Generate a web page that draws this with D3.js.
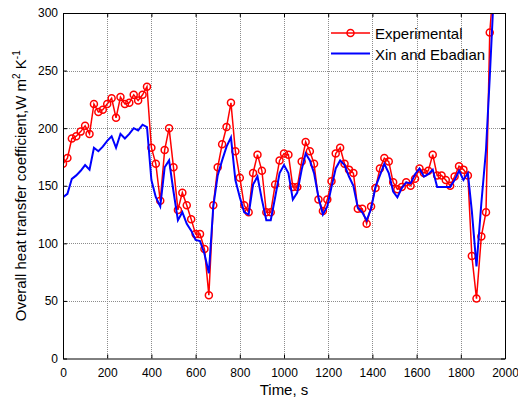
<!DOCTYPE html>
<html>
<head>
<meta charset="utf-8">
<script src="https://cdn.jsdelivr.net/npm/d3@7"></script>
<style>
body { margin: 0; background: #fff; }
svg { display: block; font-family: "Liberation Sans", Arial, sans-serif; }
</style>
</head>
<body>
<svg width="518" height="397"></svg>
<script>
// time, s
var times = [0,20,40,60,80,100,120,140,160,180,200,220,240,260,280,300,320,340,360,380,
  400,420,440,460,480,500,520,540,560,580,600,620,640,660,
  680,700,720,740,760,780,800,820,840,860,880,900,920,940,960,980,1000,1020,1040,1060,1080,
  1098,1117,1136,1156,1176,1196,1215,1234,1254,1274,1294,1314,1334,1354,1374,1394,1414,1434,1454,1474,
  1494,1513,1533,1553,1573,1593,1613,1633,1653,1673,1693,1713,1732,1752,1772,1792,1812,1832,
  1850,1871,1893,1914,1931,1950];

var experimental = [169,174,191,193,197,202,195,221,214,216,221,226,209,227,221,222,229,224,229,236,
  183,169,137,181,200,166,129,144,133,121,108,108,95,55,
  133,166,186,201,222,180,157,133,127,161,177,163,127,127,151,172,178,177,149,149,171,
  188,180,169,138,128,138,154,178,183,169,164,161,130,130,117,132,148,165,174,171,
  153,147,149,153,150,156,165,161,163,177,159,159,155,150,158,167,164,159,
  89,52,106,127,283,330];

var xinEbadian = [140,143,156,159,163,168,164,183,180,184,189,193,183,195,191,195,200,198,203,201,
  155,140,132,166,172,145,120,127,117,111,103,102,91,74,
  132,159,172,184,192,155,140,127,125,151,158,138,120,120,140,161,168,161,138,144,164,
  178,172,161,140,125,132,149,165,172,168,158,150,131,127,120,130,149,159,169,161,
  145,140,148,153,152,160,165,158,160,164,149,149,149,149,155,163,155,161,
  128,80,135,181,244,320];

var xTicks = [0,200,400,600,800,1000,1200,1400,1600,1800,2000];
var yTicks = [0,50,100,150,200,250,300];

var svg = d3.select("svg");
var pLeft = 63, pRight = 505, pTop = 13, pBottom = 358.5;

var x = d3.scaleLinear().domain([0,2000]).range([pLeft,pRight]);
var y = d3.scaleLinear().domain([0,300]).range([pBottom,pTop]);

svg.append("clipPath").attr("id","plotclip")
  .append("rect")
  .attr("x",pLeft).attr("y",pTop)
  .attr("width",pRight-pLeft).attr("height",pBottom-pTop);

// grid
svg.append("g").selectAll("line").data(xTicks.slice(1,-1)).enter()
  .append("line")
  .attr("x1",function(d){ return Math.round(x(d))+0.5 })
  .attr("x2",function(d){ return Math.round(x(d))+0.5 })
  .attr("y1",pTop).attr("y2",pBottom)
  .attr("stroke","#8c8c8c").attr("stroke-dasharray","1,1");
svg.append("g").selectAll("line").data(yTicks.slice(1,-1)).enter()
  .append("line")
  .attr("y1",function(d){ return Math.round(y(d))+0.5 })
  .attr("y2",function(d){ return Math.round(y(d))+0.5 })
  .attr("x1",pLeft).attr("x2",pRight)
  .attr("stroke","#8c8c8c").attr("stroke-dasharray","1,1");

// series
var pts = function(vals){ return times.map(function(t,i){ return [t, vals[i]] }) };
var line = d3.line().x(function(d){ return x(d[0]) }).y(function(d){ return y(d[1]) });

var plot = svg.append("g").attr("clip-path","url(#plotclip)");
plot.append("path").datum(pts(experimental))
  .attr("d",line).attr("fill","none")
  .attr("stroke","#ff0000").attr("stroke-width",1.5);
plot.selectAll("circle").data(pts(experimental)).enter()
  .append("circle")
  .attr("cx",function(d){ return x(d[0]) })
  .attr("cy",function(d){ return y(d[1]) })
  .attr("r",3.5)
  .attr("fill","none").attr("stroke","#ff0000").attr("stroke-width",1.5);
plot.append("path").datum(pts(xinEbadian))
  .attr("d",line).attr("fill","none")
  .attr("stroke","#0000ff").attr("stroke-width",2);

// axes, ticks inside
var blank = function(){ return "" };
var num = d3.format("d");
var ax = svg.append("g");
ax.append("g").attr("transform","translate(0,"+pBottom+")")
  .call(d3.axisBottom(x).tickValues(xTicks).tickFormat(num).tickSizeInner(-4).tickSizeOuter(0).tickPadding(9.5));
ax.append("g").attr("transform","translate(0,"+pTop+")")
  .call(d3.axisTop(x).tickValues(xTicks).tickFormat(blank).tickSizeInner(-4).tickSizeOuter(0));
ax.append("g").attr("transform","translate("+pLeft+",0)")
  .call(d3.axisLeft(y).tickValues(yTicks).tickFormat(num).tickSizeInner(-4).tickSizeOuter(0).tickPadding(5));
ax.append("g").attr("transform","translate("+pRight+",0)")
  .call(d3.axisRight(y).tickValues(yTicks).tickFormat(blank).tickSizeInner(-4).tickSizeOuter(0));
ax.selectAll("g").attr("font-size",12).attr("font-family","Liberation Sans, Arial, sans-serif");
ax.selectAll("text").attr("fill","#000");
ax.selectAll(".domain, .tick line").attr("stroke","#000");

// labels
svg.append("text")
  .attr("x",(pLeft+pRight)/2).attr("y",395)
  .attr("text-anchor","middle").attr("font-size",15)
  .text("Time, s");

var yl = svg.append("text")
  .attr("transform","rotate(-90)")
  .attr("x",-(pTop+pBottom)/2).attr("y",26)
  .attr("text-anchor","middle").attr("font-size",15);
yl.append("tspan").text("Overall heat transfer coefficient,W m");
yl.append("tspan").attr("font-size",10).attr("dy",-6).text("2");
yl.append("tspan").attr("dy",6).text(" K");
yl.append("tspan").attr("font-size",10).attr("dy",-6).text("-1");

// legend
var legend = svg.append("g").attr("font-size",15);
legend.append("line").attr("x1",331).attr("x2",370).attr("y1",33).attr("y2",33)
  .attr("stroke","#ff0000").attr("stroke-width",1.5);
legend.append("circle").attr("cx",350.5).attr("cy",33).attr("r",3.5)
  .attr("fill","none").attr("stroke","#ff0000").attr("stroke-width",1.5);
legend.append("text").attr("x",375).attr("y",39).text("Experimental");
legend.append("line").attr("x1",331).attr("x2",370).attr("y1",53.5).attr("y2",53.5)
  .attr("stroke","#0000ff").attr("stroke-width",2);
legend.append("text").attr("x",375).attr("y",60).text("Xin and Ebadian");
</script>
</body>
</html>
